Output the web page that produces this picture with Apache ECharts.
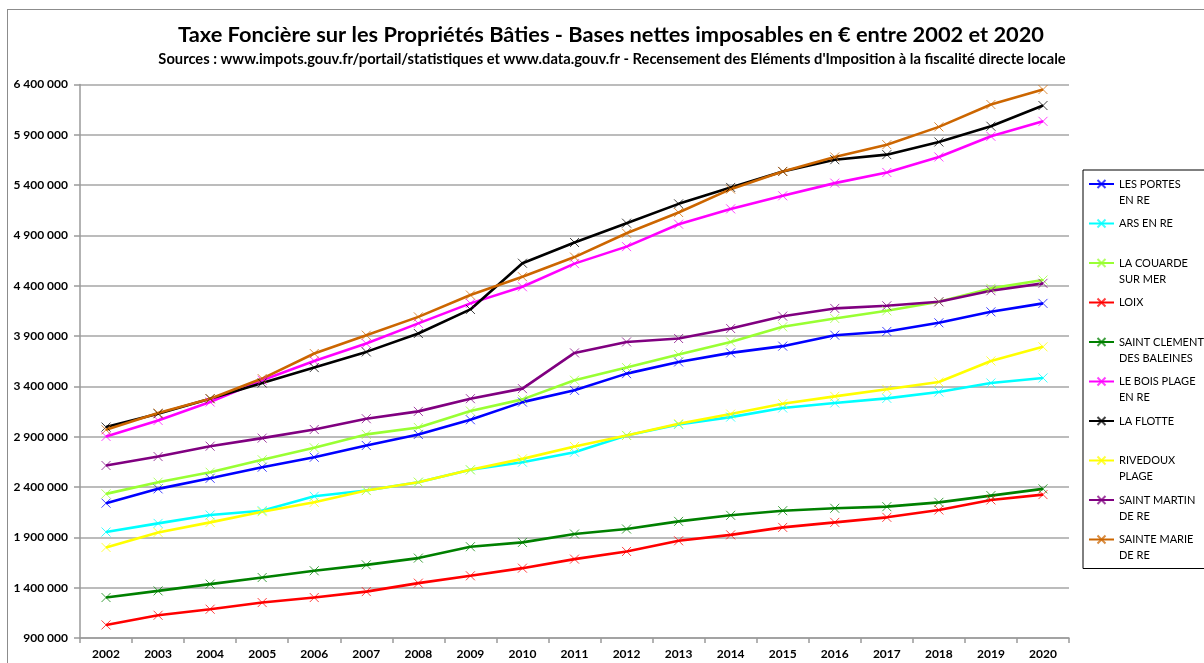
<!DOCTYPE html>
<html>
<head>
<meta charset="utf-8">
<script src="https://cdn.jsdelivr.net/npm/echarts@6/dist/echarts.min.js"></script>
<style>
  html, body { margin: 0; padding: 0; background: #fff; }
  #chart { width: 1204px; height: 663px; }
  #frame { position: absolute; left: 7px; top: 9px; width: 1300px; height: 700px;
           border-left: 1.5px solid #8c8c8c; border-top: 1.5px solid #8c8c8c; pointer-events: none; }
</style>
</head>
<body>
<div id="chart"></div>
<div id="frame"></div>
<script>
// années
const years = ['2002', '2003', '2004', '2005', '2006', '2007', '2008', '2009', '2010', '2011',
  '2012', '2013', '2014', '2015', '2016', '2017', '2018', '2019', '2020']

// bases nettes par commune
const lesPortes = [2240000, 2382000, 2487000, 2597000, 2696000, 2813000, 2923000, 3069000, 3244000, 3361000,
  3527000, 3643000, 3733000, 3800000, 3909000, 3946000, 4032000, 4141000, 4225000]
const arsEnRe = [1953000, 2039000, 2122000, 2165000, 2308000, 2365000, 2448000, 2571000, 2647000, 2746000,
  2913000, 3022000, 3095000, 3185000, 3235000, 3281000, 3344000, 3434000, 3484000]
const laCouarde = [2332000, 2448000, 2547000, 2671000, 2790000, 2923000, 2992000, 3155000, 3271000, 3461000,
  3587000, 3717000, 3842000, 3992000, 4075000, 4151000, 4241000, 4374000, 4457000]
const loix = [1030000, 1126000, 1186000, 1252000, 1302000, 1361000, 1445000, 1518000, 1594000, 1684000,
  1760000, 1866000, 1925000, 1999000, 2049000, 2099000, 2172000, 2272000, 2325000]
const saintClement = [1302000, 1368000, 1435000, 1501000, 1568000, 1627000, 1694000, 1807000, 1850000, 1933000,
  1983000, 2059000, 2119000, 2165000, 2189000, 2205000, 2248000, 2315000, 2382000]
const leBoisPlage = [2903000, 3062000, 3245000, 3461000, 3653000, 3826000, 4026000, 4225000, 4390000, 4620000,
  4789000, 5012000, 5164000, 5294000, 5420000, 5526000, 5680000, 5885000, 6034000]
const laFlotte = [2996000, 3129000, 3278000, 3434000, 3587000, 3743000, 3926000, 4165000, 4624000, 4830000,
  5022000, 5214000, 5377000, 5536000, 5653000, 5703000, 5829000, 5985000, 6191000]
const rivedoux = [1800000, 1949000, 2049000, 2155000, 2248000, 2365000, 2448000, 2571000, 2680000, 2803000,
  2913000, 3029000, 3125000, 3228000, 3301000, 3371000, 3444000, 3653000, 3793000]
const saintMartin = [2614000, 2703000, 2806000, 2886000, 2972000, 3079000, 3152000, 3278000, 3378000, 3733000,
  3842000, 3876000, 3975000, 4098000, 4175000, 4201000, 4241000, 4351000, 4424000]
const sainteMarie = [2969000, 3135000, 3278000, 3478000, 3727000, 3909000, 4091000, 4308000, 4490000, 4685000,
  4922000, 5128000, 5360000, 5536000, 5680000, 5802000, 5979000, 6201000, 6350000]

const communes = ['LES PORTES EN RE', 'ARS EN RE', 'LA COUARDE SUR MER', 'LOIX', 'SAINT CLEMENT DES BALEINES',
  'LE BOIS PLAGE EN RE', 'LA FLOTTE', 'RIVEDOUX PLAGE', 'SAINT MARTIN DE RE', 'SAINTE MARIE DE RE']
// libellés de légende : ligne vide en tête pour caler la 1re ligne sur le symbole
const legendLabels = [' \nLES PORTES\nEN RE', ' \nARS EN RE\n ', ' \nLA COUARDE\nSUR MER', ' \nLOIX\n ',
  ' \nSAINT CLEMENT\nDES BALEINES', ' \nLE BOIS PLAGE\nEN RE', ' \nLA FLOTTE\n ', ' \nRIVEDOUX\nPLAGE',
  ' \nSAINT MARTIN\nDE RE', ' \nSAINTE MARIE\nDE RE']
const values = [lesPortes, arsEnRe, laCouarde, loix, saintClement, leBoisPlage, laFlotte, rivedoux, saintMartin, sainteMarie]
const colors = ['#0000ff', '#00ffff', '#99ff33', '#ff0000', '#008000', '#ff00ff', '#000000', '#ffff00', '#800080', '#cc6600']

const yMin = 900000
const yMax = 6400000
const yStep = 500000

const font = "Lato, 'Open Sans', sans-serif"
const fmt = (v) => String(v).replace(/\B(?=(\d{3})+(?!\d))/g, ' ')

const chart = echarts.init(document.getElementById('chart'))

const series = communes.map((name, i) => ({
  name,
  type: 'line',
  data: values[i],
  symbol: 'path://M0,0L10,10M10,0L0,10',
  symbolSize: 9,
  showAllSymbol: true,
  lineStyle: { color: colors[i], width: 2.6 },
  itemStyle: { color: colors[i], borderColor: colors[i], borderWidth: 1, opacity: 0.75 },
  emphasis: { disabled: true },
  animation: false,
}))

chart.setOption({
  backgroundColor: '#fff',
  title: [
    {
      text: 'Taxe Foncière sur les Propriétés Bâties - Bases nettes imposables en € entre 2002 et 2020',
      left: 611,
      top: 24,
      padding: 0,
      textAlign: 'center',
      textStyle: { fontFamily: font, fontSize: 21.8, fontWeight: 'bold', color: '#000' },
    },
    {
      text: 'Sources : www.impots.gouv.fr/portail/statistiques et www.data.gouv.fr - Recensement des Eléments d\'Imposition à la fiscalité directe locale',
      left: 612,
      top: 52,
      padding: 0,
      textAlign: 'center',
      textStyle: { fontFamily: font, fontSize: 14.7, fontWeight: 'bold', color: '#000' },
    },
  ],
  legend: {
    orient: 'vertical',
    left: 1083,
    top: 170,
    padding: [-10, 6, 5, 5],
    itemWidth: 25,
    itemHeight: 10,
    itemGap: -8.5,
    borderColor: '#000',
    borderWidth: 1,
    data: communes,
    formatter: (name) => legendLabels[communes.indexOf(name)],
    textStyle: { fontFamily: font, fontSize: 11, color: '#000', lineHeight: 16 },
  },
  grid: { left: 80, right: 135, top: 84.5, bottom: 25 },
  xAxis: {
    type: 'category',
    data: years,
    boundaryGap: true,
    axisLine: { lineStyle: { color: '#9a9a9a', width: 1.5 } },
    axisTick: { show: true, length: 5, lineStyle: { color: '#9a9a9a', width: 1.5 } },
    axisLabel: { margin: 10, fontFamily: font, fontSize: 12, fontWeight: 'bold', color: '#000' },
  },
  yAxis: {
    type: 'value',
    min: yMin,
    max: yMax,
    interval: yStep,
    axisLine: { show: true, lineStyle: { color: '#9a9a9a', width: 1.5 } },
    axisTick: { show: true, length: 6, lineStyle: { color: '#9a9a9a', width: 1.5 } },
    splitLine: { lineStyle: { color: '#a6a6a6', width: 1.5 } },
    axisLabel: { margin: 12, fontFamily: font, fontSize: 12, fontWeight: 'bold', color: '#000', formatter: fmt },
  },
  series,
})

window.addEventListener('resize', () => {
  chart.resize()
})
</script>
</body>
</html>
